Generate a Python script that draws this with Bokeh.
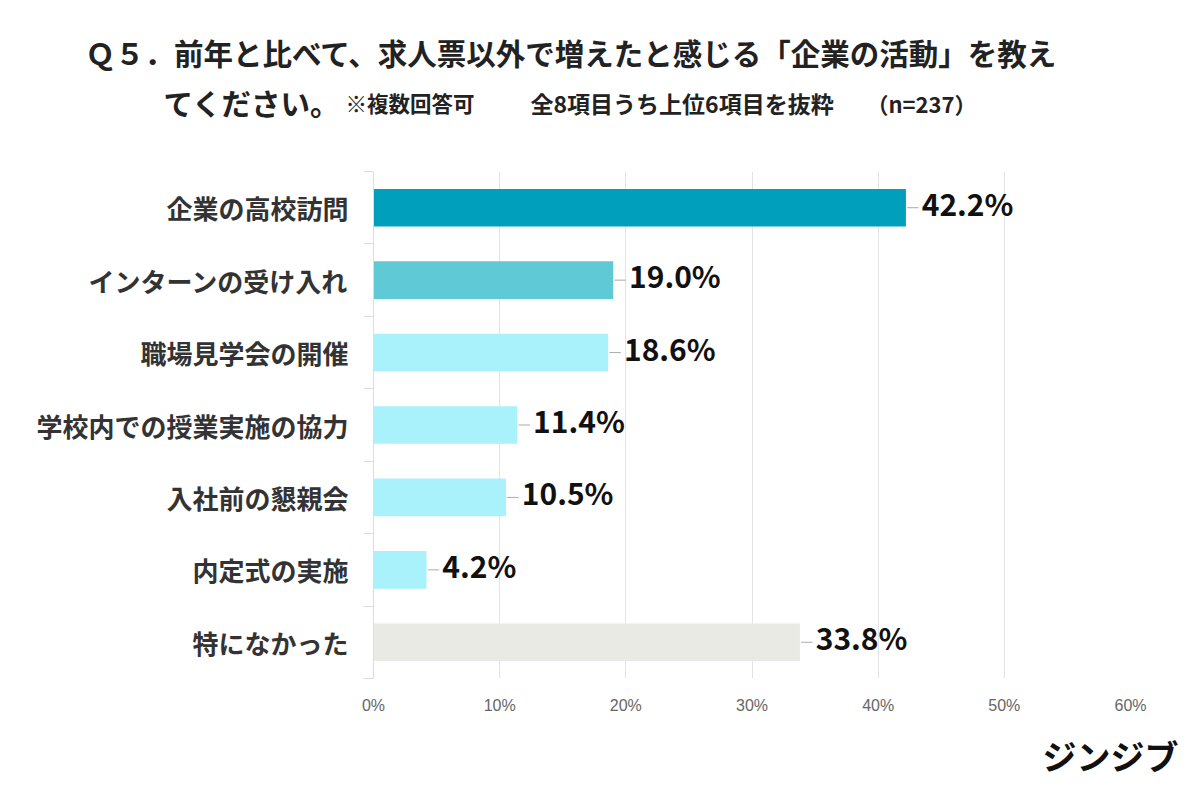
from bokeh.plotting import figure
from bokeh.models import ColumnDataSource, FixedTicker, Range1d
from bokeh.layouts import column
from bokeh.core.properties import value
from bokeh.embed import file_html
from bokeh.resources import INLINE

categories = ["企業の高校訪問", "インターンの受け入れ", "職場見学会の開催", "学校内での授業実施の協力",
              "入社前の懇親会", "内定式の実施", "特になかった"]
values = [42.2, 19.0, 18.6, 11.4, 10.5, 4.2, 33.8]
colors = ["#00a0bc", "#5fc9d5", "#a9f1fb", "#a9f1fb", "#a9f1fb", "#a9f1fb", "#eaeae4"]
x_ticks = [0, 10, 20, 30, 40, 50, 60]

title_line1 = "Ｑ５．前年と比べて、求人票以外で増えたと感じる「企業の活動」を教え"
title_line2 = ["てください。", "※複数回答可", "全8項目うち上位6項目を抜粋", "（n=237）"]
brand = "ジンジブ"

FONT = "Noto Sans CJK JP"
W = 1200

# ---------- header (title) ----------
H_HEAD = 160
head = figure(width=W, height=H_HEAD, output_backend="svg", toolbar_location=None,
              x_range=Range1d(0, W), y_range=Range1d(H_HEAD, 0),
              min_border=0, x_axis_location=None, y_axis_location=None)
head.frame_align = False
head.grid.visible = False
head.outline_line_color = None
head.text(x=[85], y=[51], text=[title_line1], text_font=value(FONT), text_font_size="29.5px",
          text_font_style="bold", text_color="#222222", text_baseline="middle", text_align="left")
head_src = ColumnDataSource(dict(x=[163, 345, 530, 866], y=[101, 102, 102, 102], t=title_line2,
                                 s=["29.5px", "21.5px", "23px", "22px"]))
head.text(x="x", y="y", text="t", text_font_size="s", source=head_src, text_font=value(FONT),
          text_font_style="bold", text_color="#222222", text_baseline="middle", text_align="left")

# ---------- main chart ----------
n = len(categories)
ypos = [n - 1 - i for i in range(n)]
labels = [f"{v:.1f}%" for v in values]

p = figure(width=W, height=570, output_backend="svg", toolbar_location=None,
           x_range=Range1d(0, 60), y_range=Range1d(-0.5, n - 0.5),
           min_border_left=373, min_border_right=70, min_border_top=11, min_border_bottom=52)
p.frame_align = False
p.outline_line_color = None

src = ColumnDataSource(dict(y=ypos, v=values, c=colors, lab=labels,
                            lx=[v + 1.25 for v in values],
                            x0=[v + 0.1 for v in values], x1=[v + 1.0 for v in values]))
p.hbar(y="y", right="v", left=0, height=0.52, fill_color="c", line_color=None, source=src)
p.segment(x0="x0", y0="y", x1="x1", y1="y", line_color="#aaaaaa", line_width=1, source=src)
p.text(x="lx", y="y", text="lab", source=src, text_font_size="30px", text_font_style="bold",
       text_color="#111111", text_baseline="middle", text_align="left", y_offset=-5,
       text_font=value(FONT))

# x axis
p.xaxis.ticker = FixedTicker(ticks=x_ticks)
p.xaxis.major_label_overrides = {t: f"{t}%" for t in x_ticks}
p.xaxis.axis_line_color = None
p.xaxis.major_tick_line_color = None
p.xaxis.major_tick_out = 0
p.xaxis.minor_tick_line_color = None
p.xaxis.major_label_text_font_size = "16px"
p.xaxis.major_label_text_color = "#666666"
p.xaxis.major_label_text_font = "Liberation Sans"
p.xaxis.major_label_standoff = 18

# y axis
p.yaxis.ticker = FixedTicker(ticks=ypos, minor_ticks=[i - 0.5 for i in range(n + 1)])
p.yaxis.major_label_overrides = {y: c for y, c in zip(ypos, categories)}
p.yaxis.axis_line_color = "#dddddd"
p.yaxis.major_tick_line_color = None
p.yaxis.major_tick_out = 0
p.yaxis.minor_tick_line_color = "#dddddd"
p.yaxis.minor_tick_out = 10
p.yaxis.minor_tick_in = 0
p.yaxis.major_label_standoff = 15
p.yaxis.major_label_text_font = FONT
p.yaxis.major_label_text_font_size = "26px"
p.yaxis.major_label_text_font_style = "bold"
p.yaxis.major_label_text_color = "#333333"

p.xgrid.ticker = FixedTicker(ticks=x_ticks)
p.xgrid.grid_line_color = "#e3e3e3"
p.ygrid.grid_line_color = None

# ---------- footer (brand) ----------
H_FOOT = 69
foot = figure(width=W, height=H_FOOT, output_backend="svg", toolbar_location=None,
              x_range=Range1d(0, W), y_range=Range1d(H_FOOT, 0),
              min_border=0, x_axis_location=None, y_axis_location=None)
foot.frame_align = False
foot.grid.visible = False
foot.outline_line_color = None
foot.text(x=[1178], y=[25], text=[brand], text_font=value(FONT), text_font_size="34px",
          text_font_style="bold", text_color="#111111", text_baseline="middle", text_align="right")

layout = column(head, p, foot, spacing=0)
open("out.html", "w").write(file_html(layout, INLINE))
